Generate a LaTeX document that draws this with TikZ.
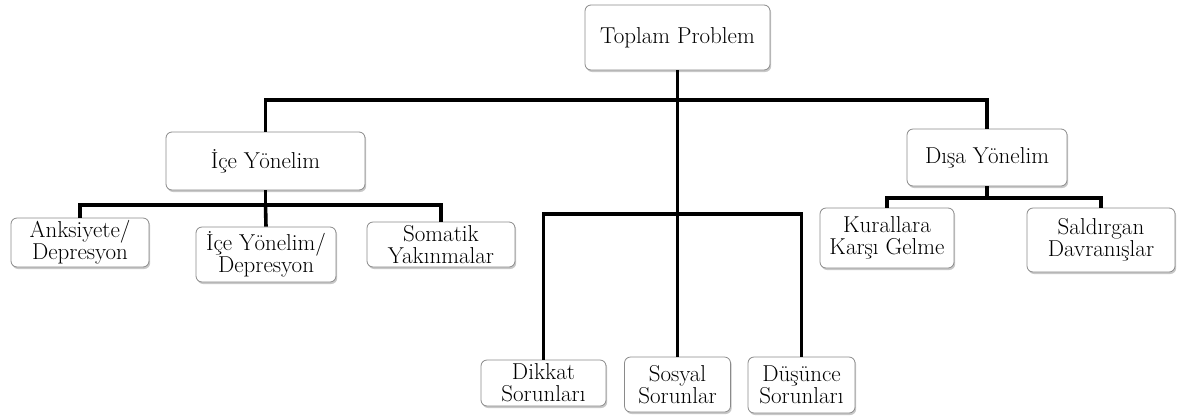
\documentclass[tikz,border=0pt]{standalone}
\usepackage{fontspec}
\usetikzlibrary{shadows}
\definecolor{boxline}{HTML}{8A8A8A}
\definecolor{shade}{HTML}{B0B0B0}
\begin{document}
\begin{tikzpicture}[x=1pt,y=-1pt,
  box/.style={draw=boxline, line width=0.8pt, rounded corners=6pt, fill=white,
    align=center, inner sep=2pt,
    drop shadow={shadow xshift=1.2pt, shadow yshift=-2pt, fill=shade, opacity=0.7},
    font=\fontsize{23}{22}\selectfont},
  conn/.style={line width=3.6pt, line join=miter}]
\useasboundingbox (0,0) rectangle (1177,416);
% nodes
\node[box, minimum width=185pt, minimum height=65pt] (top) at (677.5,37.5) {Toplam Problem};
\node[box, minimum width=199pt, minimum height=58pt] (ice) at (265.5,161) {İçe Yönelim};
\node[box, minimum width=160pt, minimum height=57pt] (disa) at (987,157.5) {Dışa Yönelim};
\node[box, minimum width=138pt, minimum height=49pt] (anks) at (80,242.5) {Anksiyete/\\Depresyon};
\node[box, minimum width=140pt, minimum height=55pt] (icedep) at (266,254.5) {İçe Yönelim/\\Depresyon};
\node[box, minimum width=148pt, minimum height=45pt] (soma) at (441,244.5) {Somatik\\Yakınmalar};
\node[box, minimum width=125pt, minimum height=46pt] (dikkat) at (543.5,383) {Dikkat\\Sorunları};
\node[box, minimum width=106pt, minimum height=55pt] (sosyal) at (677.5,384.5) {Sosyal\\Sorunlar};
\node[box, minimum width=107pt, minimum height=56pt] (dusun) at (801.5,385) {Düşünce\\Sorunları};
\node[box, minimum width=134pt, minimum height=60pt] (kural) at (887,238) {Kurallara\\Karşı Gelme};
\node[box, minimum width=148pt, minimum height=64pt] (sald) at (1101,240) {Saldırgan\\Davranışlar};
% junction coordinates
\coordinate (jtop) at (677.5,100);
\coordinate (jice) at (265.5,205);
\coordinate (jmid) at (677.5,214);
\coordinate (jdisa) at (987,198);
% connectors
\draw[conn] (ice.north) |- (jtop) -| (disa.north);
\draw[conn] (top.south) -- (jmid);
\draw[conn] (ice.south) -- (jice);
\draw[conn] (anks.north) |- (jice) -| (soma.north);
\draw[conn] (jice) -- (icedep.north);
\draw[conn] (dikkat.north) |- (jmid) -| (dusun.north);
\draw[conn] (jmid) -- (sosyal.north);
\draw[conn] (disa.south) -- (jdisa);
\draw[conn] (kural.north) |- (jdisa) -| (sald.north);
\end{tikzpicture}
\end{document}
